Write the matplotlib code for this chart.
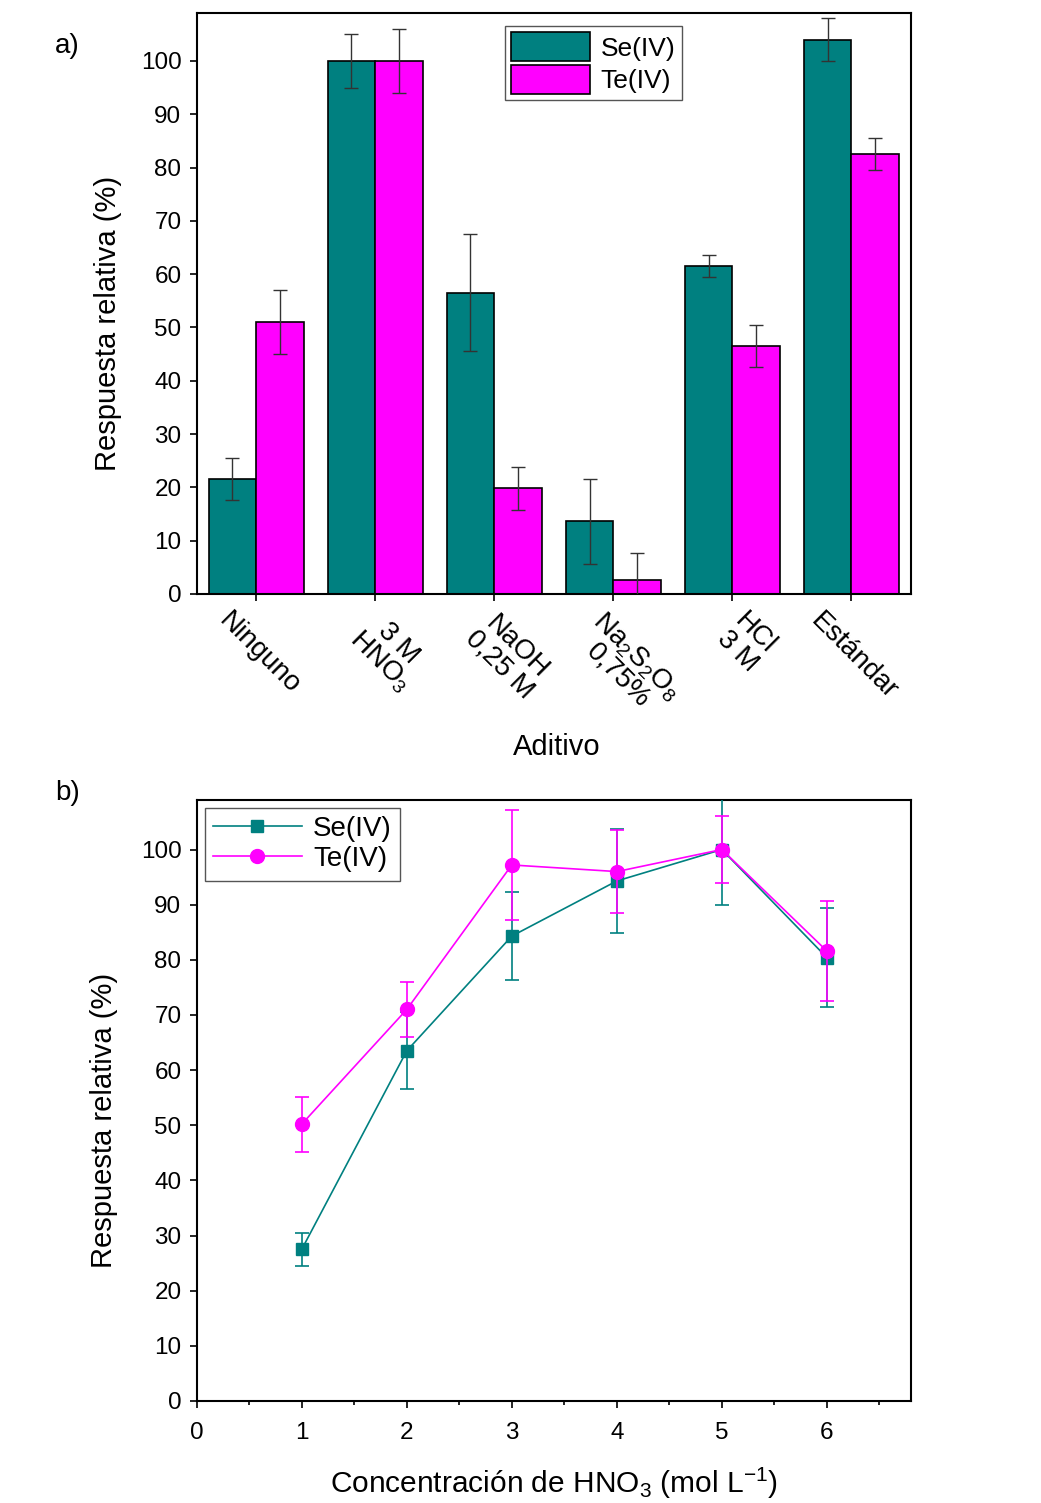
import numpy as np
import matplotlib
matplotlib.use("Agg")
import matplotlib.pyplot as plt
from matplotlib.lines import Line2D

plt.rcParams['font.family'] = ['Liberation Sans', 'DejaVu Sans']
plt.rcParams['mathtext.fontset'] = 'custom'
plt.rcParams['mathtext.rm'] = 'Liberation Sans'
plt.rcParams['mathtext.it'] = 'Liberation Sans:italic'
plt.rcParams['mathtext.bf'] = 'Liberation Sans:bold'

# --- data panel a) ---
additives = ["Ninguno", "3 M\nHNO$_3$", "NaOH\n0,25 M", "Na$_2$S$_2$O$_8$\n0,75%", "HCl\n3 M", "Estándar"]
se_bar = [21.6, 100.0, 56.5, 13.6, 61.5, 104.0]
se_bar_err = [4.0, 5.0, 11.0, 8.0, 2.0, 4.0]
te_bar = [51.0, 100.0, 19.8, 2.6, 46.5, 82.6]
te_bar_err = [6.0, 6.0, 4.0, 5.0, 4.0, 3.0]

# --- data panel b) ---
conc = [1, 2, 3, 4, 5, 6]
se_line = [27.5, 63.5, 84.3, 94.3, 100.0, 80.4]
se_line_err = [3.0, 7.0, 8.0, 9.5, 10.0, 9.0]
te_line = [50.2, 71.0, 97.2, 96.0, 100.0, 81.6]
te_line_err = [5.0, 5.0, 10.0, 7.5, 6.0, 9.0]

TEAL = '#008080'
MAG = '#FF00FF'

fig = plt.figure(figsize=(10.41, 15.03), dpi=100)
ax1 = fig.add_axes([0.189, 0.6048, 0.686, 0.3866])
ax2 = fig.add_axes([0.189, 0.0679, 0.686, 0.3999])

for ax in (ax1, ax2):
    for s in ax.spines.values():
        s.set_linewidth(1.5)
    ax.tick_params(direction='out', length=5, width=1.2, labelsize=17.5, pad=6)

# ---- (a) bars ----
x = np.arange(len(additives))
w = 0.4
ax1.bar(x - w / 2, se_bar, w, color=TEAL, edgecolor='black', linewidth=1.2, label='Se(IV)', zorder=2)
ax1.bar(x + w / 2, te_bar, w, color=MAG, edgecolor='black', linewidth=1.2, label='Te(IV)', zorder=2)
ax1.errorbar(x - w / 2, se_bar, yerr=se_bar_err, fmt='none', ecolor='#333333', elinewidth=1, capsize=5, capthick=1, zorder=3)
ax1.errorbar(x + w / 2, te_bar, yerr=te_bar_err, fmt='none', ecolor='#333333', elinewidth=1, capsize=5, capthick=1, zorder=3)

ax1.set_xlim(-0.5, 5.5)
ax1.set_ylim(0, 109)
ax1.set_yticks(np.arange(0, 101, 10))
ax1.set_xticks(x)
ax1.set_xticklabels([])
# category labels as rotated annotations under each tick
for i, lab in enumerate(additives):
    dx = 10 if '\n' in lab else 2
    ax1.annotate(lab, xy=(i, 0), xycoords=('data', 'axes fraction'),
                 xytext=(dx, -10), textcoords='offset points',
                 rotation=-45, ha='center', va='top', fontsize=20, linespacing=0.95,
                 annotation_clip=False)
ax1.set_xlabel('Aditivo', fontsize=21)
ax1.xaxis.set_label_coords(0.504, -0.24)
ax1.set_ylabel('Respuesta relativa (%)', fontsize=21)
ax1.yaxis.set_label_coords(-0.105, 0.465)
ax1.legend(loc='upper left', bbox_to_anchor=(0.431, 0.978), borderaxespad=0, fontsize=19,
           fancybox=False, edgecolor='#555555', framealpha=1, handlelength=3.0, handleheight=1.3,
           labelspacing=0.15, handletextpad=0.4, borderpad=0.25)

# ---- (b) lines ----
ax2.errorbar(conc, se_line, yerr=se_line_err, color=TEAL, ecolor=TEAL, marker='s', markersize=8.5,
             linewidth=1.2, elinewidth=1.2, capsize=5, capthick=1.2, zorder=3)
ax2.errorbar(conc, te_line, yerr=te_line_err, color=MAG, ecolor=MAG, marker='o', markersize=10,
             linewidth=1.2, elinewidth=1.2, capsize=5, capthick=1.2, zorder=4)
ax2.set_xlim(0, 6.8)
ax2.set_ylim(0, 109)
ax2.set_yticks(np.arange(0, 101, 10))
ax2.set_xticks(np.arange(0, 7, 1))
ax2.set_xticks(np.arange(0.5, 7, 1), minor=True)
ax2.tick_params(axis='x', which='minor', direction='out', length=3, width=1.2)
ax2.tick_params(axis='x', pad=10)
ax2.set_xlabel('Concentración de HNO$_3$ (mol L$^{-1}$)', fontsize=21.5)
ax2.xaxis.set_label_coords(0.5, -0.108)
ax2.set_ylabel('Respuesta relativa (%)', fontsize=21)
ax2.yaxis.set_label_coords(-0.11, 0.466)
handles = [Line2D([], [], color=TEAL, marker='s', markersize=8.5, lw=1.2),
           Line2D([], [], color=MAG, marker='o', markersize=10, lw=1.2)]
ax2.legend(handles, ['Se(IV)', 'Te(IV)'], loc='upper left', bbox_to_anchor=(0.011, 0.987),
           borderaxespad=0, fontsize=20, fancybox=False, edgecolor='#555555', framealpha=1,
           handlelength=3.2, labelspacing=0.15, handletextpad=0.4, borderpad=0.3)

fig.text(0.053, 0.965, 'a)', fontsize=20)
fig.text(0.053, 0.468, 'b)', fontsize=20)

fig.savefig('out.png', dpi=100)
